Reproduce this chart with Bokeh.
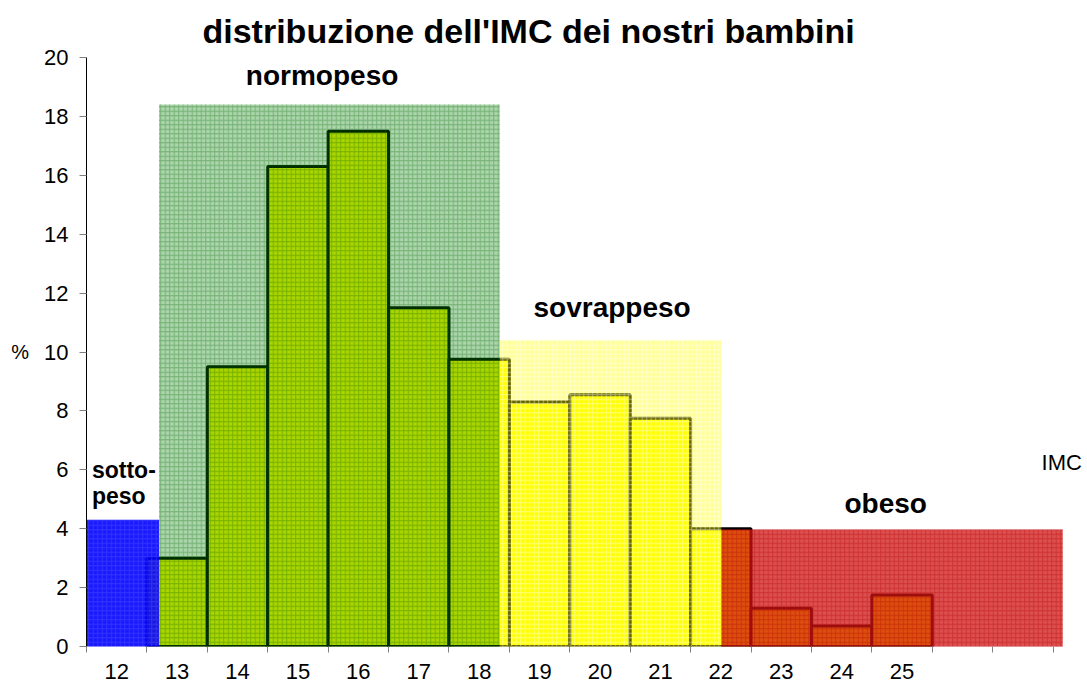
from bokeh.plotting import figure
from bokeh.models import Range1d, FixedTicker, Label
from bokeh.embed import file_html
from bokeh.resources import INLINE

# ---- data ----
bmi_classes = [13, 14, 15, 16, 17, 18, 19, 20, 21, 22, 23, 24, 25]
percent = [3.0, 9.5, 16.3, 17.5, 11.5, 9.75, 8.3, 8.55, 7.75, 4.0, 1.3, 0.7, 1.75]
tick_values = [12, 13, 14, 15, 16, 17, 18, 19, 20, 21, 22, 23, 24, 25]
slot_edges = [11.5 + i for i in range(17)]

region_names = ["sotto-peso", "normopeso", "sovrappeso", "obeso"]
region_start = [11.5, 12.7, 18.34, 22.01]
region_end = [12.7, 18.34, 22.01, 27.66]
region_top = [4.3, 18.4, 10.4, 3.97]
region_color = ["#0000ff", "#008000", "#ffff00", "#d21414"]
region_alpha = [0.9, 0.33, 0.4, 0.75]
region_hatch = ["#8080ff", "#006000", "#ffffff", "#b00000"]
region_hatch_alpha = [0.25, 0.3, 0.45, 0.35]

FONT = "Liberation Sans"

p = figure(width=1087, height=688, output_backend="svg", toolbar_location=None,
           x_range=Range1d(11.5, 28.07), y_range=Range1d(0, 20),
           min_border_left=86, min_border_right=0, min_border_top=57, min_border_bottom=42)
p.outline_line_color = None
p.xgrid.visible = False
p.ygrid.visible = False
p.background_fill_color = "white"

p.title.text = "distribuzione dell'IMC dei nostri bambini"
p.title.text_font = FONT
p.title.text_font_size = "34px"
p.title.text_font_style = "bold"
p.title.text_color = "black"
p.title.align = "left"
p.title.offset = 116
p.title.standoff = 15

# bars
p.vbar(x=bmi_classes, width=1.0, bottom=0, top=percent,
       fill_color="#ffff00", line_color="black", line_width=3)

# category overlays
for i in range(len(region_names)):
    p.quad(left=[region_start[i]], right=[region_end[i]], bottom=[-0.1], top=[region_top[i]],
           fill_color=region_color[i], fill_alpha=region_alpha[i], line_color=None,
           hatch_pattern="+", hatch_color=region_hatch[i], hatch_alpha=region_hatch_alpha[i],
           hatch_scale=4.5, hatch_weight=1)

# axes
xa = p.xaxis[0]
xa.ticker = FixedTicker(ticks=tick_values, minor_ticks=slot_edges)
xa.major_tick_line_color = None
xa.major_tick_out = 0
xa.major_tick_in = 0
xa.minor_tick_out = 6
xa.minor_tick_in = 0
xa.minor_tick_line_color = "#808080"
xa.axis_line_color = None
xa.major_label_text_font = FONT
xa.major_label_text_font_size = "22px"
xa.major_label_text_color = "black"
xa.major_label_standoff = 11

ya = p.yaxis[0]
ya.ticker = FixedTicker(ticks=list(range(0, 21, 2)), minor_ticks=[])
ya.major_tick_out = 7
ya.major_tick_in = 0
ya.major_tick_line_color = "#808080"
ya.minor_tick_line_color = None
ya.axis_line_color = "black"
ya.major_label_text_font = FONT
ya.major_label_text_font_size = "22px"
ya.major_label_text_color = "black"
ya.major_label_standoff = 11
ya.axis_label = "%"
ya.axis_label_orientation = "horizontal"
ya.axis_label_text_font = FONT
ya.axis_label_text_font_size = "20px"
ya.axis_label_text_font_style = "normal"
ya.axis_label_text_color = "black"
ya.axis_label_standoff = 12

# texts
def lab(x, y, text, size, bold=True, align="center"):
    p.add_layout(Label(x=x, y=y, text=text, text_font=FONT, text_font_size=size,
                       text_font_style="bold" if bold else "normal", text_color="black",
                       text_align=align, text_baseline="alphabetic"))

lab(15.4, 19.40, "normopeso", "28px")
lab(20.2, 11.50, "sovrappeso", "28px")
lab(24.73, 4.84, "obeso", "28px")
lab(11.59, 6.00, "sotto-", "23px", align="left")
lab(11.59, 5.10, "peso", "23px", align="left")
lab(27.31, 6.26, "IMC", "22px", bold=False, align="left")

open("out.html", "w").write(file_html(p, INLINE))
